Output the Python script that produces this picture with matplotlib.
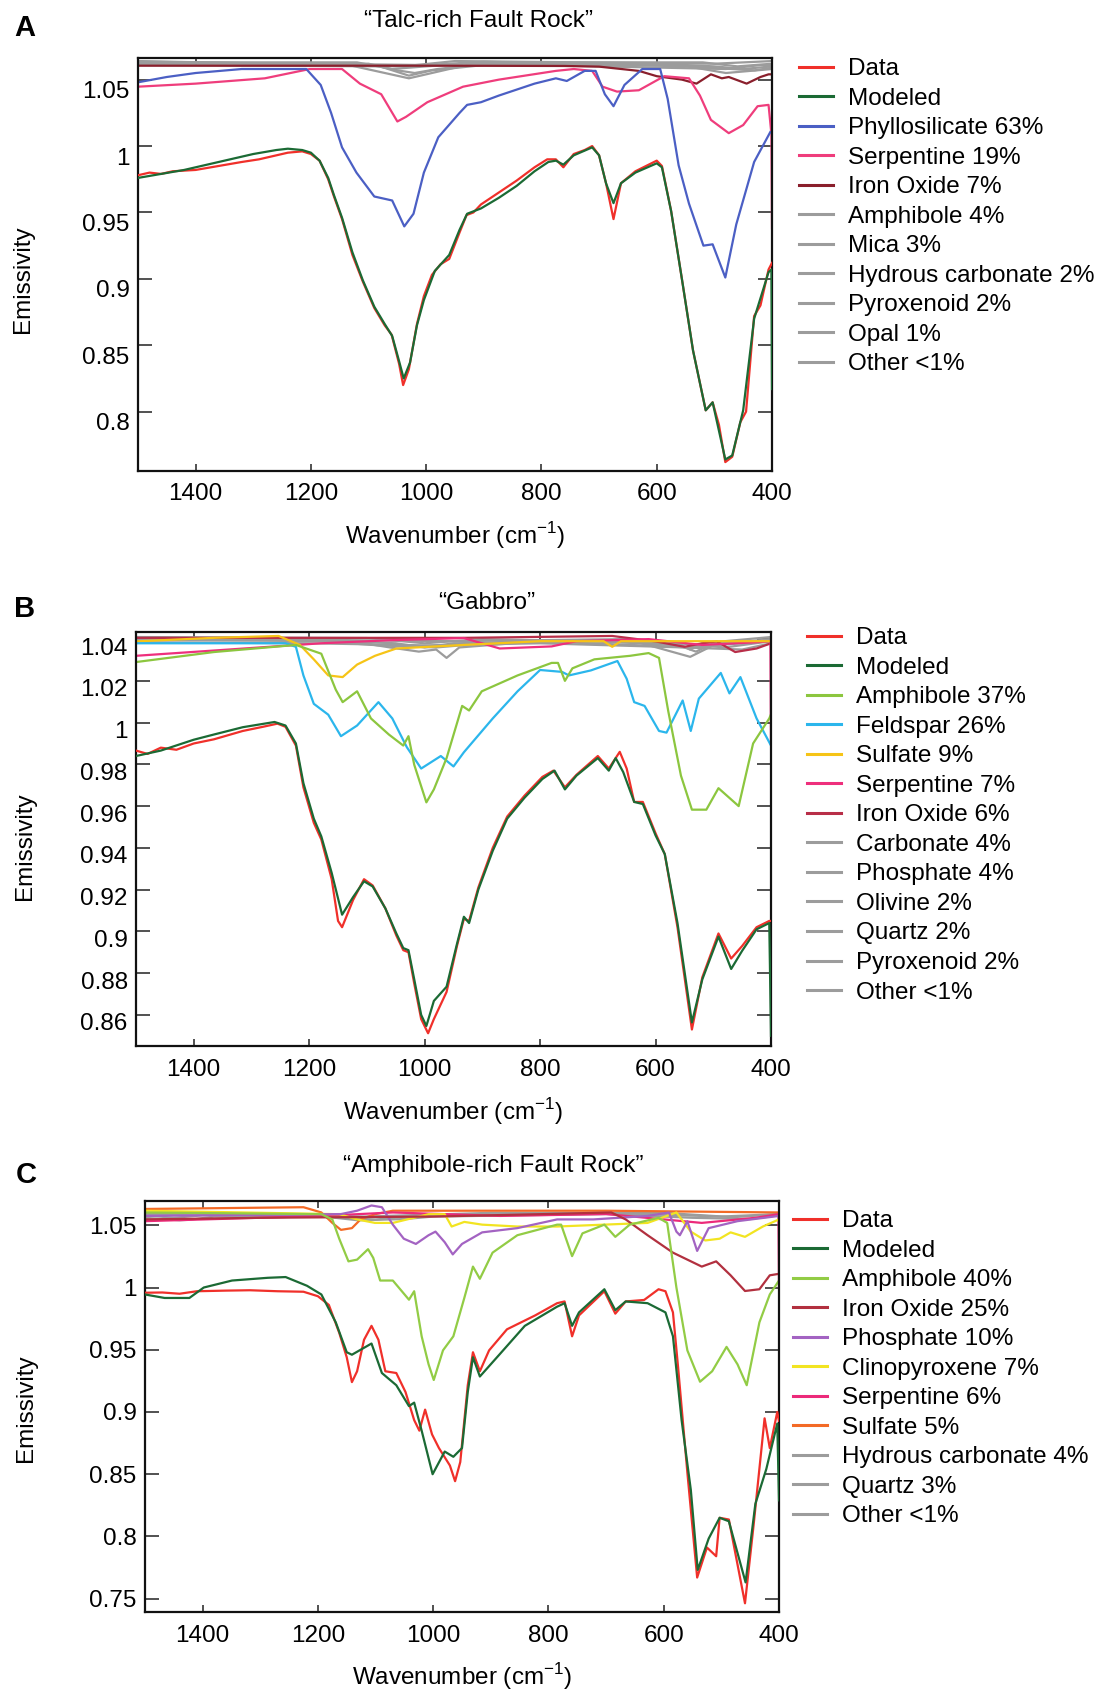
import numpy as np
import matplotlib
matplotlib.use('Agg')
import matplotlib.pyplot as plt
from matplotlib.transforms import ScaledTranslation

plt.rcParams['font.family'] = ['Liberation Sans', 'DejaVu Sans']
plt.rcParams['mathtext.fontset'] = 'custom'
plt.rcParams['mathtext.rm'] = 'Liberation Sans'

# ---------------- Panel A: "Talc-rich Fault Rock" ----------------
A_DATA = [(1500, 0.978), (1480, 0.980), (1460, 0.979), (1440, 0.981), (1400, 0.982), (1360, 0.985),
          (1320, 0.988), (1290, 0.990), (1260, 0.993), (1240, 0.995), (1215, 0.996), (1200, 0.994),
          (1185, 0.989), (1170, 0.975), (1160, 0.962), (1146, 0.945), (1128, 0.918), (1110, 0.898),
          (1090, 0.878), (1072, 0.865), (1060, 0.858), (1047, 0.836), (1040, 0.820), (1030, 0.832),
          (1016, 0.866), (1004, 0.887), (990, 0.903), (975, 0.911), (960, 0.915), (942, 0.935),
          (930, 0.948), (918, 0.950), (905, 0.956), (874, 0.965), (843, 0.974), (812, 0.984),
          (790, 0.990), (775, 0.990), (762, 0.984), (744, 0.994), (725, 0.997), (712, 1.000),
          (700, 0.993), (688, 0.972), (675, 0.945), (662, 0.972), (637, 0.981), (600, 0.989),
          (591, 0.985), (575, 0.951), (556, 0.899), (537, 0.846), (515, 0.801), (503, 0.807),
          (492, 0.790), (481, 0.762), (469, 0.766), (455, 0.792), (445, 0.800), (431, 0.872),
          (420, 0.880), (406, 0.907), (400, 0.912)]
A_MODEL = [(1500, 0.976), (1460, 0.979), (1420, 0.982), (1400, 0.984), (1350, 0.989), (1300, 0.994),
           (1260, 0.997), (1240, 0.998), (1215, 0.997), (1200, 0.995), (1185, 0.989), (1170, 0.976),
           (1160, 0.963), (1146, 0.946), (1128, 0.920), (1110, 0.899), (1090, 0.879), (1072, 0.866),
           (1059, 0.857), (1047, 0.838), (1039, 0.825), (1028, 0.837), (1016, 0.865), (1004, 0.884),
           (985, 0.906), (960, 0.918), (942, 0.937), (929, 0.949), (905, 0.953), (874, 0.961),
           (843, 0.970), (812, 0.981), (788, 0.988), (775, 0.989), (762, 0.986), (744, 0.993),
           (712, 0.999), (700, 0.993), (688, 0.972), (675, 0.957), (662, 0.972), (637, 0.980),
           (600, 0.987), (591, 0.984), (575, 0.951), (556, 0.899), (537, 0.846), (515, 0.801),
           (503, 0.807), (481, 0.764), (469, 0.767), (450, 0.801), (431, 0.870), (406, 0.905),
           (401, 0.907), (400, 0.817)]
A_PHYLLO = [(1500, 1.048), (1450, 1.052), (1400, 1.055), (1320, 1.058), (1208, 1.058), (1183, 1.046),
            (1165, 1.025), (1146, 0.999), (1121, 0.980), (1090, 0.962), (1059, 0.959), (1038, 0.9395),
            (1022, 0.949), (1004, 0.980), (979, 1.0066), (942, 1.025), (929, 1.031), (905, 1.033),
            (874, 1.038), (812, 1.047), (775, 1.051), (756, 1.049), (725, 1.0566), (706, 1.0566),
            (690, 1.039), (675, 1.030), (656, 1.046), (625, 1.058), (594, 1.058), (581, 1.0355),
            (562, 0.9855), (544, 0.9566), (519, 0.925), (503, 0.926), (481, 0.901), (462, 0.941),
            (431, 0.988), (403, 1.0105)]
A_SERP = [(1500, 1.0447), (1400, 1.047), (1280, 1.051), (1202, 1.058), (1146, 1.058), (1115, 1.047),
          (1078, 1.039), (1050, 1.0185), (1035, 1.022), (998, 1.033), (936, 1.0447), (874, 1.050),
          (775, 1.0566), (744, 1.058), (712, 1.0566), (694, 1.0447), (669, 1.041), (631, 1.042),
          (587, 1.0526), (544, 1.051), (525, 1.038), (506, 1.0197), (475, 1.0097), (450, 1.0158),
          (425, 1.030), (406, 1.031), (401, 1.009), (400, 0.938)]
A_IRON = [(1500, 1.0605), (1000, 1.0605), (760, 1.0603), (700, 1.0598), (631, 1.0566), (600, 1.0526),
          (556, 1.050), (531, 1.047), (506, 1.054), (487, 1.051), (475, 1.052), (444, 1.047),
          (420, 1.052), (406, 1.054), (400, 1.054)]
A_AMPH = [(1500, 1.062), (1100, 1.062), (1050, 1.057), (1020, 1.055), (980, 1.058), (900, 1.062),
          (600, 1.062), (500, 1.060), (450, 1.058), (400, 1.060)]
A_MICA = [(1500, 1.061), (1080, 1.060), (1030, 1.053), (990, 1.057), (900, 1.061), (560, 1.061),
          (480, 1.055), (400, 1.058)]
A_HYDCARB = [(1500, 1.063), (1120, 1.063), (1060, 1.058), (1000, 1.060), (900, 1.063), (520, 1.063),
             (460, 1.060), (400, 1.062)]
A_PYROXD = [(1500, 1.0635), (1000, 1.061), (900, 1.0635), (550, 1.060), (430, 1.057), (400, 1.059)]
A_OPAL = [(1500, 1.064), (1040, 1.060), (950, 1.064), (500, 1.062), (400, 1.064)]
A_OTHER = [(1500, 1.0625), (1150, 1.0625), (1030, 1.051), (980, 1.056), (920, 1.062), (480, 1.058),
           (420, 1.061), (400, 1.061)]

# ---------------- Panel B: "Gabbro" ----------------
B_DATA = [(1500, 0.9866), (1480, 0.985), (1457, 0.988), (1430, 0.987), (1400, 0.990), (1365, 0.992),
          (1315, 0.996), (1280, 0.998), (1255, 0.9995), (1241, 0.998), (1223, 0.989), (1210, 0.969),
          (1192, 0.952), (1179, 0.944), (1161, 0.925), (1150, 0.905), (1143, 0.902), (1124, 0.915),
          (1105, 0.925), (1090, 0.922), (1068, 0.911), (1049, 0.898), (1037, 0.891), (1028, 0.890),
          (1018, 0.875), (1006, 0.858), (994, 0.8512), (984, 0.858), (962, 0.871), (944, 0.893),
          (932, 0.906), (923, 0.905), (907, 0.921), (882, 0.940), (857, 0.955), (827, 0.965),
          (796, 0.974), (777, 0.977), (757, 0.969), (737, 0.975), (700, 0.984), (681, 0.978),
          (662, 0.986), (650, 0.978), (637, 0.962), (622, 0.962), (600, 0.947), (584, 0.937),
          (562, 0.902), (537, 0.853), (519, 0.878), (491, 0.899), (469, 0.887), (450, 0.893),
          (425, 0.902), (403, 0.905), (400, 0.905)]
B_MODEL = [(1500, 0.984), (1457, 0.9866), (1400, 0.9918), (1365, 0.9943), (1315, 0.9978), (1260, 1.0003),
           (1241, 0.9986), (1223, 0.990), (1210, 0.971), (1192, 0.954), (1179, 0.9455), (1161, 0.928),
           (1143, 0.908), (1124, 0.9164), (1105, 0.924), (1090, 0.9215), (1068, 0.911), (1049, 0.899),
           (1037, 0.892), (1028, 0.891), (1018, 0.877), (1006, 0.860), (997, 0.8547), (984, 0.8667),
           (962, 0.8735), (944, 0.894), (932, 0.907), (923, 0.904), (907, 0.920), (882, 0.9386),
           (857, 0.954), (827, 0.964), (796, 0.973), (775, 0.977), (757, 0.968), (737, 0.9746),
           (700, 0.983), (681, 0.977), (669, 0.983), (656, 0.9763), (637, 0.962), (622, 0.961),
           (600, 0.946), (584, 0.937), (562, 0.904), (537, 0.8564), (519, 0.877), (491, 0.8975),
           (469, 0.882), (450, 0.8907), (425, 0.901), (403, 0.904), (400, 0.850)]
B_AMPH = [(1500, 1.029), (1365, 1.0338), (1223, 1.0372), (1179, 1.033), (1154, 1.0158), (1142, 1.0098),
          (1117, 1.015), (1093, 1.002), (1062, 0.9943), (1037, 0.989), (1028, 0.9935), (1018, 0.9798),
          (997, 0.9618), (984, 0.968), (962, 0.983), (935, 1.008), (923, 1.0058), (901, 1.015),
          (839, 1.0226), (780, 1.0286), (769, 1.0286), (757, 1.020), (744, 1.026), (706, 1.0303),
          (644, 1.032), (612, 1.0333), (594, 1.031), (578, 1.0055), (556, 0.9746), (537, 0.9583),
          (512, 0.9583), (491, 0.9686), (456, 0.960), (431, 0.990), (403, 1.002), (400, 1.004)]
B_FELD = [(1500, 1.038), (1241, 1.038), (1223, 1.0363), (1210, 1.0226), (1192, 1.009), (1167, 1.0038),
          (1145, 0.9935), (1117, 0.9986), (1080, 1.0098), (1056, 1.002), (1031, 0.9883), (1006, 0.978),
          (972, 0.984), (950, 0.979), (932, 0.9858), (882, 1.002), (839, 1.015), (800, 1.0252),
          (762, 1.0243), (750, 1.0226), (712, 1.025), (666, 1.0295), (650, 1.021), (637, 1.0098),
          (619, 1.008), (594, 0.996), (581, 0.9952), (553, 1.0106), (539, 0.996), (525, 1.0115),
          (487, 1.0238), (472, 1.014), (453, 1.0218), (425, 1.002), (400, 0.989)]
B_SULF = [(1500, 1.0389), (1365, 1.0406), (1253, 1.0415), (1216, 1.0372), (1192, 1.0303), (1167, 1.0226),
          (1142, 1.0218), (1117, 1.0278), (1086, 1.032), (1049, 1.0355), (932, 1.0372), (800, 1.039),
          (690, 1.039), (675, 1.0363), (660, 1.039), (400, 1.039)]
B_SERP = [(1500, 1.032), (1179, 1.038), (1056, 1.0395), (932, 1.0405), (870, 1.0355), (780, 1.0365),
          (737, 1.039), (612, 1.040), (519, 1.0372), (425, 1.0385), (401, 1.039), (400, 0.990)]
B_IRON = [(1500, 1.0406), (932, 1.0406), (675, 1.0415), (600, 1.0389), (550, 1.0363), (519, 1.038),
          (494, 1.0389), (462, 1.0338), (425, 1.0355), (400, 1.038)]
B_CARB = [(1500, 1.0395), (1200, 1.0395), (1050, 1.038), (1000, 1.036), (950, 1.038), (700, 1.039),
          (560, 1.037), (530, 1.034), (500, 1.038), (400, 1.039)]
B_PHOS = [(1500, 1.040), (1150, 1.040), (1060, 1.036), (1010, 1.034), (980, 1.035), (962, 1.031),
          (940, 1.036), (800, 1.039), (540, 1.036), (400, 1.040)]
B_OLIV = [(1500, 1.041), (1100, 1.0405), (1000, 1.038), (900, 1.040), (560, 1.038), (540, 1.035),
          (520, 1.038), (400, 1.041)]
B_QTZ = [(1500, 1.0385), (1200, 1.038), (1000, 1.037), (800, 1.038), (550, 1.036), (450, 1.035),
         (400, 1.038)]
B_PYROXD = [(1500, 1.0405), (950, 1.039), (650, 1.040), (540, 1.0315), (500, 1.037), (400, 1.039)]
B_OTHER = [(1500, 1.0398), (1180, 1.039), (1080, 1.037), (980, 1.036), (850, 1.039), (600, 1.039),
           (480, 1.036), (400, 1.039)]

# ---------------- Panel C: "Amphibole-rich Fault Rock" ----------------
C_DATA = [(1500, 0.9958), (1470, 0.996), (1440, 0.995), (1410, 0.997), (1360, 0.9975), (1318, 0.9978),
          (1270, 0.997), (1225, 0.9966), (1200, 0.993), (1181, 0.986), (1163, 0.9636), (1150, 0.944),
          (1141, 0.924), (1132, 0.9327), (1120, 0.958), (1107, 0.9692), (1095, 0.958), (1083, 0.9327),
          (1064, 0.9313), (1048, 0.916), (1033, 0.8935), (1024, 0.885), (1014, 0.9019), (1002, 0.882),
          (990, 0.871), (971, 0.857), (962, 0.8444), (953, 0.8598), (940, 0.9215), (931, 0.948),
          (919, 0.9327), (903, 0.9495), (872, 0.9664), (823, 0.9776), (785, 0.9874), (772, 0.9888),
          (759, 0.9608), (747, 0.9776), (703, 0.997), (684, 0.979), (666, 0.9888), (634, 0.990),
          (609, 0.9986), (597, 0.997), (584, 0.980), (575, 0.9355), (559, 0.8514), (542, 0.767),
          (525, 0.7911), (509, 0.7841), (503, 0.815), (487, 0.8136), (459, 0.7463), (444, 0.8094),
          (425, 0.8949), (416, 0.871), (403, 0.900), (400, 0.893)]
C_MODEL = [(1500, 0.9944), (1466, 0.9916), (1423, 0.9916), (1398, 1.000), (1349, 1.0056), (1287, 1.0078),
           (1256, 1.0084), (1219, 1.0014), (1194, 0.9944), (1169, 0.972), (1150, 0.948), (1141, 0.946),
           (1107, 0.955), (1089, 0.9313), (1064, 0.9215), (1042, 0.9047), (1033, 0.9075), (1020, 0.885),
           (1001, 0.850), (980, 0.8682), (965, 0.864), (950, 0.871), (940, 0.916), (931, 0.944),
           (919, 0.9285), (884, 0.9467), (841, 0.9692), (785, 0.9846), (772, 0.9874), (759, 0.9692),
           (747, 0.980), (703, 0.9986), (684, 0.9818), (666, 0.9888), (628, 0.9874), (597, 0.980),
           (584, 0.9608), (569, 0.8935), (553, 0.8374), (541, 0.7731), (522, 0.7983), (503, 0.815),
           (487, 0.8122), (458, 0.7631), (441, 0.8262), (422, 0.8542), (403, 0.8907), (400, 0.829)]
C_AMPH = [(1500, 1.0603), (1194, 1.0589), (1175, 1.0547), (1163, 1.0392), (1147, 1.021), (1132, 1.0224),
          (1113, 1.0308), (1104, 1.0238), (1092, 1.0056), (1070, 1.0056), (1042, 0.9902), (1033, 0.997),
          (1020, 0.9608), (1008, 0.9383), (999, 0.9257), (983, 0.9495), (965, 0.9608), (946, 0.9916),
          (931, 1.0168), (919, 1.007), (897, 1.028), (854, 1.042), (785, 1.0505), (778, 1.0505),
          (759, 1.0252), (741, 1.0435), (703, 1.0505), (684, 1.0407), (659, 1.0505), (609, 1.056),
          (594, 1.0519), (578, 1.000), (559, 0.9495), (537, 0.9243), (516, 0.9327), (491, 0.9523),
          (472, 0.9383), (456, 0.9215), (434, 0.972), (416, 0.9944), (400, 1.0056)]
C_IRON = [(1500, 1.0547), (1300, 1.056), (1000, 1.057), (816, 1.0589), (691, 1.0603), (666, 1.0547),
          (628, 1.042), (584, 1.028), (534, 1.0168), (509, 1.021), (484, 1.0098), (459, 0.9972),
          (434, 0.9986), (416, 1.0098), (400, 1.011)]
C_PHOS = [(1500, 1.0575), (1160, 1.0590), (1132, 1.0617), (1107, 1.0659), (1089, 1.0645), (1070, 1.0505),
          (1051, 1.0392), (1030, 1.035), (1008, 1.042), (996, 1.0449), (980, 1.0364), (966, 1.0266),
          (950, 1.035), (915, 1.0443), (854, 1.0477), (785, 1.0547), (722, 1.0547), (628, 1.0575),
          (591, 1.0603), (578, 1.0449), (572, 1.042), (559, 1.0533), (542, 1.0294), (522, 1.0477),
          (472, 1.0533), (400, 1.0575)]
C_CPX = [(1500, 1.0617), (1163, 1.0589), (1132, 1.0547), (1101, 1.0519), (1070, 1.0519), (1008, 1.0589),
         (980, 1.0589), (968, 1.049), (946, 1.0527), (915, 1.0505), (854, 1.049), (785, 1.049),
         (628, 1.0519), (578, 1.0603), (553, 1.0449), (528, 1.0378), (503, 1.0392), (484, 1.0443),
         (459, 1.0407), (428, 1.049), (400, 1.0547)]
C_SERP = [(1500, 1.0533), (1194, 1.0575), (1070, 1.0603), (884, 1.0575), (700, 1.059), (534, 1.0519),
          (441, 1.056), (401, 1.0589), (400, 1.000)]
C_SULF = [(1500, 1.0631), (1225, 1.0645), (1194, 1.0603), (1175, 1.0519), (1160, 1.0463), (1141, 1.0477),
          (1126, 1.0547), (1101, 1.0589), (1070, 1.0617), (700, 1.0617), (400, 1.0603)]
C_HYDCARB = [(1500, 1.056), (1440, 1.054), (1420, 1.0545), (1380, 1.057), (1200, 1.0575), (1130, 1.054),
             (1050, 1.055), (1000, 1.057), (700, 1.059), (550, 1.056), (450, 1.055), (400, 1.058)]
C_QTZ = [(1500, 1.058), (1450, 1.056), (1400, 1.058), (1200, 1.059), (1150, 1.056), (1100, 1.0545),
         (1050, 1.057), (700, 1.060), (500, 1.057), (400, 1.059)]
C_OTHER = [(1500, 1.059), (1300, 1.0595), (1120, 1.057), (900, 1.060), (600, 1.060), (480, 1.0565),
           (400, 1.059)]

X_TICKS = [1400, 1200, 1000, 800, 600, 400]
A_YTICKS = [0.8, 0.85, 0.9, 0.95, 1.0, 1.05]
B_YTICKS = [0.86, 0.88, 0.9, 0.92, 0.94, 0.96, 0.98, 1.0, 1.02, 1.04]
C_YTICKS = [0.75, 0.8, 0.85, 0.9, 0.95, 1.0, 1.05]

RED = '#f0302a'
GREEN = '#1b6a34'
GRAY = '#9c9c9c'

FS = 17.5

panels = [
    dict(letter='A', title='\u201cTalc-rich Fault Rock\u201d', ylim=(0.7553, 1.0663), yticks=A_YTICKS,
         box=(138, 58, 772, 471), title_xy=(479, 21), letter_xy=(25, 28), lab_shift=10,
         leg_xy=(799, 58), ylab=(-0.164, 0.465),
         curves=[('Data', A_DATA, RED), ('Modeled', A_MODEL, GREEN),
                 ('Phyllosilicate 63%', A_PHYLLO, '#4b5fc4'), ('Serpentine 19%', A_SERP, '#ef3d7c'),
                 ('Iron Oxide 7%', A_IRON, '#8a1f2c'), ('Amphibole 4%', A_AMPH, GRAY),
                 ('Mica 3%', A_MICA, GRAY), ('Hydrous carbonate 2%', A_HYDCARB, GRAY),
                 ('Pyroxenoid 2%', A_PYROXD, GRAY), ('Opal 1%', A_OPAL, GRAY),
                 ('Other <1%', A_OTHER, GRAY)]),
    dict(letter='B', title='\u201cGabbro\u201d', ylim=(0.8451, 1.0434), yticks=B_YTICKS,
         box=(136, 632, 771, 1046), title_xy=(487, 603), letter_xy=(25, 609), lab_shift=7,
         leg_xy=(807, 627), ylab=(-0.157, 0.483),
         curves=[('Data', B_DATA, RED), ('Modeled', B_MODEL, GREEN),
                 ('Amphibole 37%', B_AMPH, '#8cc63f'), ('Feldspar 26%', B_FELD, '#2bb6ec'),
                 ('Sulfate 9%', B_SULF, '#f6c417'), ('Serpentine 7%', B_SERP, '#ee2f7c'),
                 ('Iron Oxide 6%', B_IRON, '#b82e48'), ('Carbonate 4%', B_CARB, GRAY),
                 ('Phosphate 4%', B_PHOS, GRAY), ('Olivine 2%', B_OLIV, GRAY),
                 ('Quartz 2%', B_QTZ, GRAY), ('Pyroxenoid 2%', B_PYROXD, GRAY),
                 ('Other <1%', B_OTHER, GRAY)]),
    dict(letter='C', title='\u201cAmphibole-rich Fault Rock\u201d', ylim=(0.7393, 1.0695), yticks=C_YTICKS,
         box=(145, 1201, 779, 1612), title_xy=(493, 1166), letter_xy=(26, 1175), lab_shift=0,
         leg_xy=(793, 1210), ylab=(-0.170, 0.496),
         curves=[('Data', C_DATA, RED), ('Modeled', C_MODEL, GREEN),
                 ('Amphibole 40%', C_AMPH, '#92cc45'), ('Iron Oxide 25%', C_IRON, '#b2303f'),
                 ('Phosphate 10%', C_PHOS, '#a363c2'), ('Clinopyroxene 7%', C_CPX, '#f2e421'),
                 ('Serpentine 6%', C_SERP, '#ec2a7a'), ('Sulfate 5%', C_SULF, '#f36a26'),
                 ('Hydrous carbonate 4%', C_HYDCARB, GRAY), ('Quartz 3%', C_QTZ, GRAY),
                 ('Other <1%', C_OTHER, GRAY)]),
]

W, H = 1102, 1693
fig = plt.figure(figsize=(W / 100, H / 100), dpi=100)

for p in panels:
    x0, y0, x1, y1 = p['box']
    ax = fig.add_axes([x0 / W, 1 - y1 / H, (x1 - x0) / W, (y1 - y0) / H])
    n = len(p['curves'])
    for i, (label, pts, color) in enumerate(p['curves']):
        arr = np.array(pts)
        z = 4 if label == 'Modeled' else (3 if label == 'Data' else 2 + (n - i) * 0.01)
        ax.plot(arr[:, 0], arr[:, 1], color=color, lw=1.6, label=label, zorder=z,
                solid_joinstyle='round')

    ax.set_xlim(1500, 400)
    ax.set_ylim(*p['ylim'])
    ax.set_xticks(X_TICKS)
    ax.set_yticks(p['yticks'])
    ax.set_yticklabels([f'{v:g}' for v in p['yticks']])
    ax.tick_params(axis='both', direction='in', labelsize=FS, width=1.1, color='#222222')
    ax.tick_params(axis='y', length=10, left=True, right=True, pad=6)
    ax.tick_params(axis='x', length=5, top=True, bottom=True, pad=9)
    for sp in ax.spines.values():
        sp.set_linewidth(1.6)
        sp.set_color('#111111')

    if p['lab_shift']:
        off = ScaledTranslation(0, -p['lab_shift'] / 100, fig.dpi_scale_trans)
        for lbl in ax.get_yticklabels():
            lbl.set_transform(lbl.get_transform() + off)

    ax.set_xlabel('Wavenumber (cm$^{\\mathregular{-1}}$)', fontsize=FS)
    ax.xaxis.set_label_coords(0.5, -0.12)
    ax.set_ylabel('Emissivity', fontsize=FS)
    ax.yaxis.set_label_coords(*p['ylab'])

    fig.text(p['title_xy'][0] / W, 1 - p['title_xy'][1] / H, p['title'], fontsize=FS,
             ha='center', va='center')
    fig.text(p['letter_xy'][0] / W, 1 - p['letter_xy'][1] / H, p['letter'], fontsize=21,
             fontweight='bold', ha='center', va='center')

    leg = ax.legend(loc='upper left', bbox_to_anchor=(p['leg_xy'][0] / W, 1 - p['leg_xy'][1] / H),
                    bbox_transform=fig.transFigure, frameon=False, borderaxespad=0, borderpad=0,
                    handlelength=1.4, handletextpad=0.62, labelspacing=0.31, fontsize=FS)
    for h in leg.get_lines():
        h.set_linewidth(2.2)

fig.savefig('out.png', dpi=100)
